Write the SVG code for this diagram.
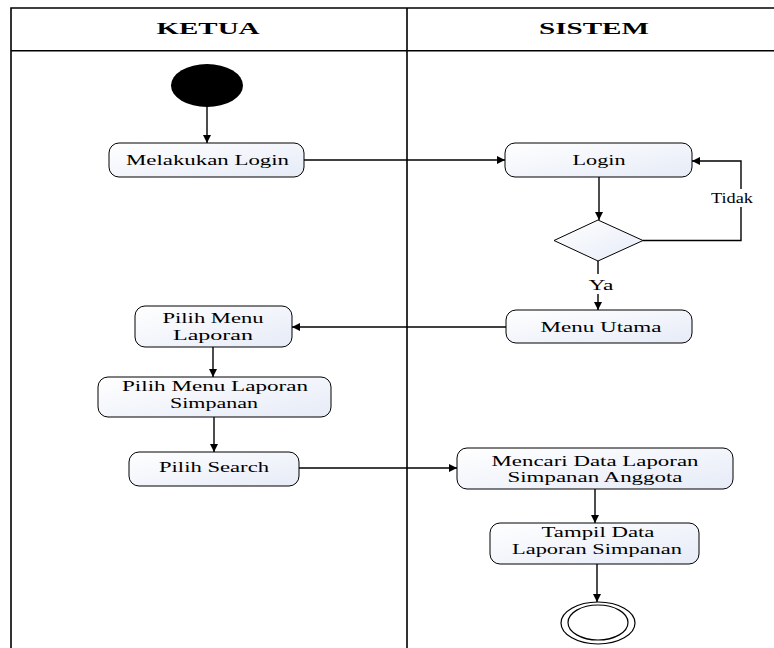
<svg xmlns="http://www.w3.org/2000/svg" width="774" height="648" viewBox="0 0 774 648">
<style>
.frame{fill:none;stroke:#000;stroke-width:1.6}
.node{stroke:#000;stroke-width:1;fill:url(#g)}
.t{font-family:"Liberation Serif","Times New Roman",serif;font-size:14.5px;fill:#000;text-anchor:middle}
.h{font-family:"Liberation Serif","Times New Roman",serif;font-size:17px;font-weight:bold;fill:#000;text-anchor:middle}
.c{fill:none;stroke:#000;stroke-width:1.4}
</style>
<defs>
<linearGradient id="g" x1="0" y1="0" x2="1" y2="1">
<stop offset="0" stop-color="#ffffff"/>
<stop offset="1" stop-color="#e6ebf7"/>
</linearGradient>
<marker id="a" viewBox="0 0 10 10" refX="10" refY="5" markerWidth="8" markerHeight="8" markerUnits="userSpaceOnUse" orient="auto">
<path d="M0,0 L10,5 L0,10 z" fill="#000"/>
</marker>
</defs>

<g id="swimlanes">
<path class="frame" d="M11,648 V8 H774 M11,50.7 H774 M407,8 V648"/>
<text class="h" x="208" y="34" textLength="103" lengthAdjust="spacingAndGlyphs">KETUA</text>
<text class="h" x="594" y="34" textLength="110" lengthAdjust="spacingAndGlyphs">SISTEM</text>
</g>

<g id="connectors">
<path class="c" d="M207,105 V143" marker-end="url(#a)"/>
<path class="c" d="M304,160 H505" marker-end="url(#a)"/>
<path class="c" d="M599,177 V220" marker-end="url(#a)"/>
<path class="c" d="M643,240.5 H741 V161 H692" marker-end="url(#a)"/>
<path class="c" d="M598,261 V310" marker-end="url(#a)"/>
<path class="c" d="M506,327 H292" marker-end="url(#a)"/>
<path class="c" d="M213,347 V377" marker-end="url(#a)"/>
<path class="c" d="M214,417 V452" marker-end="url(#a)"/>
<path class="c" d="M299,468 H457" marker-end="url(#a)"/>
<path class="c" d="M595,489 V523" marker-end="url(#a)"/>
<path class="c" d="M597,564 V602" marker-end="url(#a)"/>
<rect x="706" y="189" width="52" height="18" fill="#fff"/>
<text class="t" x="732" y="203" textLength="42" lengthAdjust="spacingAndGlyphs">Tidak</text>
<rect x="586" y="274" width="30" height="20" fill="#fff"/>
<text class="t" x="601" y="290" textLength="25" lengthAdjust="spacingAndGlyphs">Ya</text>
</g>

<g id="start">
<ellipse cx="207" cy="85.5" rx="36" ry="21.5" fill="#000"/>
</g>

<g id="melakukan-login">
<rect class="node" x="109" y="143" width="195" height="34" rx="10"/>
<text class="t" x="207.5" y="165" textLength="163" lengthAdjust="spacingAndGlyphs">Melakukan Login</text>
</g>

<g id="login">
<rect class="node" x="505" y="143" width="187" height="34" rx="10"/>
<text class="t" x="599" y="165" textLength="53" lengthAdjust="spacingAndGlyphs">Login</text>
</g>

<g id="decision">
<polygon class="node" points="598,220 643,240.5 598,261 554,240.5"/>
</g>

<g id="menu-utama">
<rect class="node" x="506" y="310" width="186" height="33" rx="10"/>
<text class="t" x="601" y="332" textLength="121" lengthAdjust="spacingAndGlyphs">Menu Utama</text>
</g>

<g id="pilih-menu-laporan">
<rect class="node" x="135" y="306" width="157" height="41" rx="10"/>
<text class="t" x="213" y="323" textLength="101" lengthAdjust="spacingAndGlyphs">Pilih Menu</text>
<text class="t" x="213" y="339.5" textLength="80" lengthAdjust="spacingAndGlyphs">Laporan</text>
</g>

<g id="pilih-menu-laporan-simpanan">
<rect class="node" x="98" y="377" width="233" height="40" rx="10"/>
<text class="t" x="215" y="391" textLength="186" lengthAdjust="spacingAndGlyphs">Pilih Menu Laporan</text>
<text class="t" x="214" y="407.5" textLength="88" lengthAdjust="spacingAndGlyphs">Simpanan</text>
</g>

<g id="pilih-search">
<rect class="node" x="129" y="452" width="170" height="34" rx="10"/>
<text class="t" x="214" y="472" textLength="110" lengthAdjust="spacingAndGlyphs">Pilih Search</text>
</g>

<g id="mencari-data">
<rect class="node" x="457" y="448" width="276" height="41" rx="10"/>
<text class="t" x="595" y="465.5" textLength="207" lengthAdjust="spacingAndGlyphs">Mencari Data Laporan</text>
<text class="t" x="595" y="482" textLength="175" lengthAdjust="spacingAndGlyphs">Simpanan Anggota</text>
</g>

<g id="tampil-data">
<rect class="node" x="490" y="523" width="209" height="41" rx="10"/>
<text class="t" x="598" y="537" textLength="113" lengthAdjust="spacingAndGlyphs">Tampil Data</text>
<text class="t" x="597" y="553.5" textLength="170" lengthAdjust="spacingAndGlyphs">Laporan Simpanan</text>
</g>

<g id="end">
<ellipse cx="598" cy="623" rx="37" ry="21" fill="#fff" stroke="#000" stroke-width="1.2"/>
<ellipse cx="598" cy="622.5" rx="30" ry="17.5" fill="none" stroke="#000" stroke-width="1.2"/>
</g>
</svg>
